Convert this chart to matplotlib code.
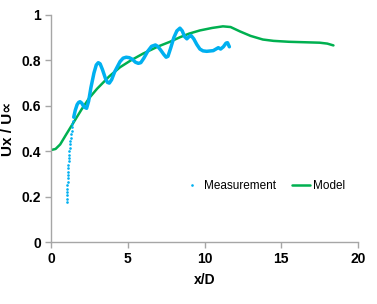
import matplotlib
matplotlib.use("Agg")
import matplotlib.pyplot as plt

# Model curve (green)
model_x = [0.0, 0.3, 0.6, 1.0, 1.5, 2.0, 2.5, 3.0, 3.8, 4.5, 5.2, 6.0, 6.5, 7.0,
           7.75, 8.4, 9.0, 9.7, 10.5, 11.2, 11.7, 12.3, 13.0, 13.8, 14.5, 15.5,
           16.5, 17.5, 18.0, 18.4]
model_y = [0.405, 0.41, 0.43, 0.475, 0.53, 0.585, 0.635, 0.675, 0.73, 0.77, 0.80,
           0.83, 0.846, 0.862, 0.882, 0.902, 0.918, 0.932, 0.943, 0.95, 0.947,
           0.928, 0.908, 0.892, 0.886, 0.882, 0.880, 0.878, 0.874, 0.866]

# Measurement: sparse dots in the steep start
meas_dot_x = [1.02, 1.03, 1.04, 1.05, 1.06, 1.07, 1.08, 1.09, 1.10, 1.11, 1.12,
              1.13, 1.15, 1.16, 1.18, 1.20, 1.22, 1.24, 1.26, 1.28, 1.31, 1.34,
              1.37, 1.40, 1.44, 1.48]
meas_dot_y = [0.176, 0.19, 0.205, 0.22, 0.235, 0.25, 0.265, 0.28, 0.295, 0.31,
              0.325, 0.34, 0.355, 0.37, 0.385, 0.40, 0.415, 0.43, 0.445, 0.46,
              0.475, 0.49, 0.505, 0.52, 0.535, 0.55]

# Measurement: dense part (appears as continuous line)
meas_x = [1.48, 1.58, 1.70, 1.80, 1.89, 2.00, 2.15, 2.32, 2.45, 2.60, 2.80, 2.95,
          3.08, 3.20, 3.35, 3.55, 3.68, 3.80, 3.95, 4.15, 4.50, 4.70, 4.90, 5.10,
          5.30, 5.50, 5.69, 5.85, 6.05, 6.30, 6.55, 6.80, 6.95, 7.15, 7.35, 7.50,
          7.62, 7.80, 8.00, 8.20, 8.40, 8.55, 8.70, 8.85, 9.00, 9.12, 9.30, 9.50,
          9.70, 9.90, 10.14, 10.57, 10.90, 11.05, 11.23, 11.40, 11.50, 11.62]
meas_y = [0.55, 0.58, 0.605, 0.615, 0.618, 0.612, 0.595, 0.589, 0.62, 0.68,
          0.745, 0.78, 0.79, 0.785, 0.76, 0.72, 0.703, 0.70, 0.715, 0.75, 0.795,
          0.81, 0.814, 0.812, 0.805, 0.792, 0.787, 0.79, 0.81, 0.84, 0.862, 0.868,
          0.862, 0.845, 0.826, 0.814, 0.818, 0.855, 0.9, 0.93, 0.942, 0.93, 0.905,
          0.895, 0.905, 0.91, 0.895, 0.87, 0.85, 0.842, 0.84, 0.843, 0.856, 0.85,
          0.86, 0.876, 0.878, 0.86]

x_ticks = [0, 5, 10, 15, 20]
y_ticks = [0, 0.2, 0.4, 0.6, 0.8, 1]
y_ticklabels = ["0", "0.2", "0.4", "0.6", "0.8", "1"]

BLUE = "#00B0F0"
GREEN = "#00B050"
GRAY = "#A6A6A6"

plt.rcParams['font.family'] = ['Liberation Sans', 'DejaVu Sans']

fig = plt.figure(figsize=(3.77, 3.04), dpi=100)
ax = fig.add_axes([51/377, 1-242/304, (358-51)/377, (242-15)/304])

ax.plot(model_x, model_y, color=GREEN, lw=1.8, solid_capstyle='round',
        label='Model', zorder=2)
ax.plot(meas_x, meas_y, color=BLUE, lw=2.5, solid_capstyle='round',
        solid_joinstyle='round', zorder=3)
ax.plot(meas_dot_x, meas_dot_y, linestyle='none', marker='o', ms=1.9,
        color=BLUE, mec='none', label='Measurement', zorder=3)

ax.set_xlim(0, 20)
ax.set_ylim(0, 1)
ax.set_xticks(x_ticks)
ax.set_yticks(y_ticks)
ax.set_yticklabels(y_ticklabels)

for s in ['top', 'right']:
    ax.spines[s].set_visible(False)
for s in ['left', 'bottom']:
    ax.spines[s].set_color(GRAY)
    ax.spines[s].set_linewidth(1.0)
ax.tick_params(axis='both', direction='out', length=4, width=1.0, color=GRAY,
               labelsize=10, pad=3)
for lbl in ax.get_xticklabels() + ax.get_yticklabels():
    lbl.set_fontweight('bold')

ax.set_xlabel('x/D', fontsize=10, fontweight='bold', labelpad=5)
ax.set_ylabel('Ux / U∝', fontsize=11, fontweight='bold', labelpad=5)

h, l = ax.get_legend_handles_labels()
order = [1, 0]
leg = ax.legend([h[i] for i in order], [l[i] for i in order], ncol=2,
                frameon=False, fontsize=8.5, handlelength=1.6,
                handletextpad=0.2, columnspacing=1.3, borderpad=0,
                borderaxespad=0, markerscale=1.0,
                loc='center left', bbox_to_anchor=(183/377, 1-186/304),
                bbox_transform=fig.transFigure)

fig.savefig('out.png', dpi=100)
